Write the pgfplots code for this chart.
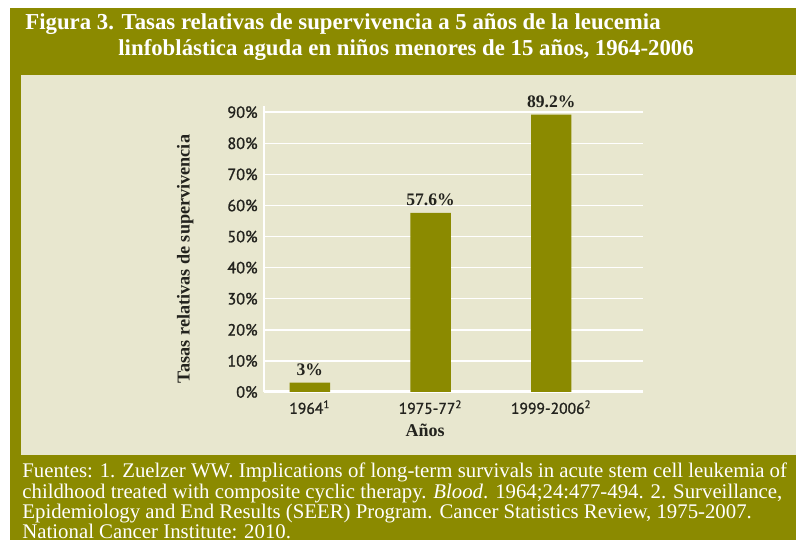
\documentclass[border=0pt]{standalone}
\usepackage{pgfplots}
\pgfplotsset{compat=1.18}
\usepackage{fontspec}
\setmainfont{Liberation Serif}
\newfontfamily\ticksans{PT Sans}[FakeBold=1.2]
\definecolor{olivebar}{RGB}{139,138,0}
\definecolor{panel}{RGB}{232,231,207}
\definecolor{inktext}{RGB}{35,35,30}

\begin{document}
\begin{tikzpicture}
\clip (0,0) rectangle (398pt,270pt);
\useasboundingbox (0,0) rectangle (398pt,270pt);

% frame, panel and texts, in pixel units (y down)
\begin{scope}[x=0.5pt,y=-0.5pt,shift={(0,270pt)}]
  \fill[white] (0,0) rectangle (796,540);
  \fill[olivebar] (10,8) rectangle (796,540);
  \fill[panel] (21,75) rectangle (796,455);
  \node[anchor=base west, inner sep=0, text=white,
        font=\bfseries\fontsize{11.4}{13}\selectfont] at (25,30)
    {Figura 3. Tasas relativas de supervivencia a 5 años de la leucemia};
  \node[anchor=base west, inner sep=0, text=white,
        font=\bfseries\fontsize{11.4}{13}\selectfont] at (118,56)
    {linfoblástica aguda en niños menores de 15 años, 1964-2006};
  \begin{scope}[every node/.style={anchor=base west, inner sep=0, text=white,
        font=\fontsize{10.4}{12}\selectfont}]
    \node at (22,478) {Fuentes: 1. Zuelzer WW. Implications of long-term survivals in acute stem cell leukemia of};
    \node at (22,498) {childhood treated with composite cyclic therapy. \textit{Blood}. 1964;24:477-494. 2. Surveillance,};
    \node at (22,518) {Epidemiology and End Results (SEER) Program. Cancer Statistics Review, 1975-2007.};
    \node at (22,538) {National Cancer Institute: 2010.};
  \end{scope}
\end{scope}

\begin{axis}[
  at={(132pt,74pt)}, anchor=south west,
  scale only axis, width=189.5pt, height=143pt,
  xmin=-0.38, xmax=2.76, ymin=0, ymax=92,
  clip=false,
  axis lines=left,
  axis line style={-},
  x axis line style={white, line width=1.5pt, -},
  y axis line style={white, line width=1pt, -},
  major tick length=0pt,
  ymajorgrids,
  major grid style={white, line width=0.75pt},
  ytick={0,10,...,90},
  yticklabels={0\%,10\%,20\%,30\%,40\%,50\%,60\%,70\%,80\%,90\%},
  yticklabel style={font=\ticksans\fontsize{8.1}{9}\selectfont, text=inktext,
    inner xsep=0pt, xshift=-3pt},
  xtick={0,1,2},
  xticklabels={1964\textsuperscript{1},1975-77\textsuperscript{2},1999-2006\textsuperscript{2}},
  xticklabel style={font=\ticksans\fontsize{7.8}{9}\selectfont, text=inktext,
    inner ysep=0pt, yshift=-4pt},
  xlabel={Años},
  xlabel style={at={(axis description cs:0.425,-0.133)}, anchor=center,
    font=\bfseries\fontsize{9}{10}\selectfont, text=inktext},
  ylabel={Tasas relativas de supervivencia},
  ylabel style={at={(axis description cs:-0.208,0.465)}, anchor=center,
    font=\bfseries\fontsize{9.1}{10}\selectfont, text=inktext},
]
\addplot[ybar, bar width=0.335, fill=olivebar, draw=none,
  nodes near coords={\pgfmathprintnumber[assume math mode=true]{\pgfplotspointmeta}\%},
  every node near coord/.style={anchor=south, inner sep=0pt, yshift=3.5pt,
    font=\bfseries\fontsize{8.8}{10}\selectfont, text=inktext}]
  coordinates {(0,3) (1,57.6) (2,89.2)};
\end{axis}
\end{tikzpicture}
\end{document}
